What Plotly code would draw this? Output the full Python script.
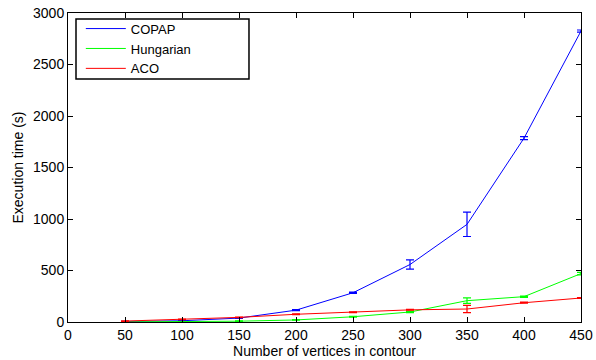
import plotly.graph_objects as go

vertices = [50, 100, 150, 200, 250, 300, 350, 400, 450]
copap = [5, 12, 38, 115, 284, 558, 948, 1785, 2825]
copap_err = [2, 3, 4, 6, 6, 45, 118, 15, 10]
hungarian = [1, 3, 8, 20, 51, 97, 207, 246, 470]
hungarian_err = [1, 1, 2, 3, 4, 6, 27, 6, 12]
aco = [9, 26, 45, 75, 94, 118, 126, 187, 233]
aco_err = [2, 3, 3, 4, 4, 4, 35, 5, 4]

series = [
    ("COPAP", copap, copap_err, "#0000ff"),
    ("Hungarian", hungarian, hungarian_err, "#00ff00"),
    ("ACO", aco, aco_err, "#ff0000"),
]

fig = go.Figure()
for name, vals, errs, col in series:
    fig.add_trace(go.Scatter(
        x=vertices, y=vals, name=name, mode="lines",
        line=dict(color=col, width=1),
        error_y=dict(type="data", array=errs, visible=True, color=col,
                     thickness=1.2, width=4),
    ))

axis_common = dict(
    showgrid=False, zeroline=False, showline=True, linecolor="black",
    linewidth=1, mirror="ticks", ticks="inside", ticklen=5,
    tickcolor="black", tickfont=dict(size=14, color="black"),
    automargin=False, ticklabeloverflow="allow",
)

fig.update_layout(
    width=596, height=360,
    margin=dict(l=68, r=15, t=13, b=38, autoexpand=False),
    paper_bgcolor="white", plot_bgcolor="white",
    font=dict(family="Liberation Sans, Arial, sans-serif", size=14, color="black"),
    xaxis=dict(range=[0, 450], tickvals=list(range(0, 451, 50)),
               title=dict(text="Number of vertices in contour", standoff=2,
                          font=dict(size=14)),
               **axis_common),
    yaxis=dict(range=[0, 3000], tickvals=list(range(0, 3001, 500)),
               title=dict(text="Execution time (s)", standoff=6,
                          font=dict(size=14)),
               **axis_common),
    showlegend=True,
    legend=dict(x=0.025, y=0.998, xanchor="left", yanchor="top",
                borderwidth=0, bgcolor="rgba(0,0,0,0)",
                font=dict(size=13), tracegroupgap=0, itemwidth=40),
    shapes=[dict(type="rect", xref="paper", yref="paper",
                 x0=0.0156, x1=0.3528, y0=0.7864, y1=0.9806,
                 line=dict(color="black", width=1.5),
                 fillcolor="white", layer="below")],
)

fig.write_html("out.html",
               config={"displayModeBar": False},
               post_script="document.body.style.margin='0';")
